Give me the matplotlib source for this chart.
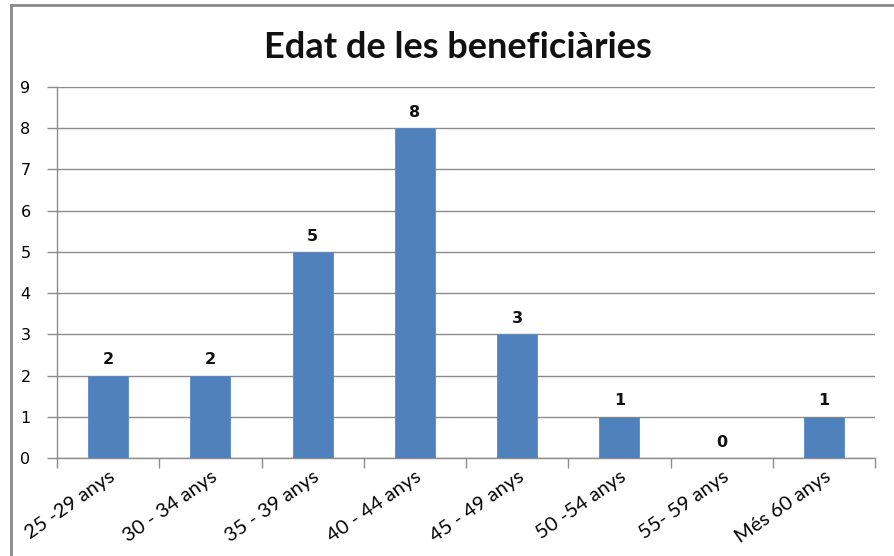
import matplotlib
matplotlib.use("Agg")
import matplotlib.pyplot as plt
from matplotlib.lines import Line2D

# Chart data
categories = ["25 -29 anys", "30 - 34 anys", "35 - 39 anys", "40 - 44 anys",
              "45 - 49 anys", "50 -54 anys", "55- 59 anys", "Més 60 anys"]
counts = [2, 2, 5, 8, 3, 1, 0, 1]
y_ticks = list(range(0, 10))

bar_color = "#4F81BD"
grid_color = "#8C8C8C"

fig = plt.figure(figsize=(8.95, 5.56), dpi=100)
ax = fig.add_axes([0.0637, 0.1763, 0.9777 - 0.0637, 0.8435 - 0.1763])

x = list(range(len(categories)))
bars = ax.bar(x, counts, width=0.39, color=bar_color, edgecolor="#5A8AC6",
              linewidth=0.6, zorder=3)

# value labels on top of the bars
ax.bar_label(bars, labels=[str(v) for v in counts], padding=6,
             fontsize=11.5, fontweight="bold", family="DejaVu Sans", color="#111111")

ax.set_xlim(-0.5, len(categories) - 0.5)
ax.set_ylim(0, 9)
ax.set_yticks(y_ticks)
ax.set_yticklabels([str(t) for t in y_ticks], fontsize=11.5, family="DejaVu Sans")
ax.yaxis.grid(True, color=grid_color, linewidth=1, zorder=0)
ax.set_axisbelow(True)

# x ticks at the category boundaries, labels at category centres
ax.set_xticks([i - 0.5 for i in range(len(categories) + 1)])
ax.set_xticklabels([])
ax.set_xticks(x, minor=True)
ax.set_xticklabels(categories, minor=True, rotation=35, ha="right",
                   rotation_mode="anchor", fontsize=14.5, family="Lato")
ax.tick_params(axis="x", which="minor", length=0, pad=7)
ax.tick_params(axis="x", which="major", length=7, color=grid_color, width=1)
ax.tick_params(axis="y", length=7, color=grid_color, width=1, pad=12)

for side in ["top", "right"]:
    ax.spines[side].set_visible(False)
for side in ["left", "bottom"]:
    ax.spines[side].set_color(grid_color)
    ax.spines[side].set_linewidth(1)

fig.suptitle("Edat de les beneficiàries", x=0.512, y=0.945, fontsize=26,
             fontweight="bold", family="Lato", color="#111111")

# outer chart frame (left and top edges visible in the screenshot)
fig.add_artist(Line2D([0.012, 0.012], [0, 0.991], transform=fig.transFigure,
                      color="#8A8A8A", linewidth=2))
fig.add_artist(Line2D([0.012, 1.0], [0.991, 0.991], transform=fig.transFigure,
                      color="#8A8A8A", linewidth=2))

fig.savefig("out.png", dpi=100)
